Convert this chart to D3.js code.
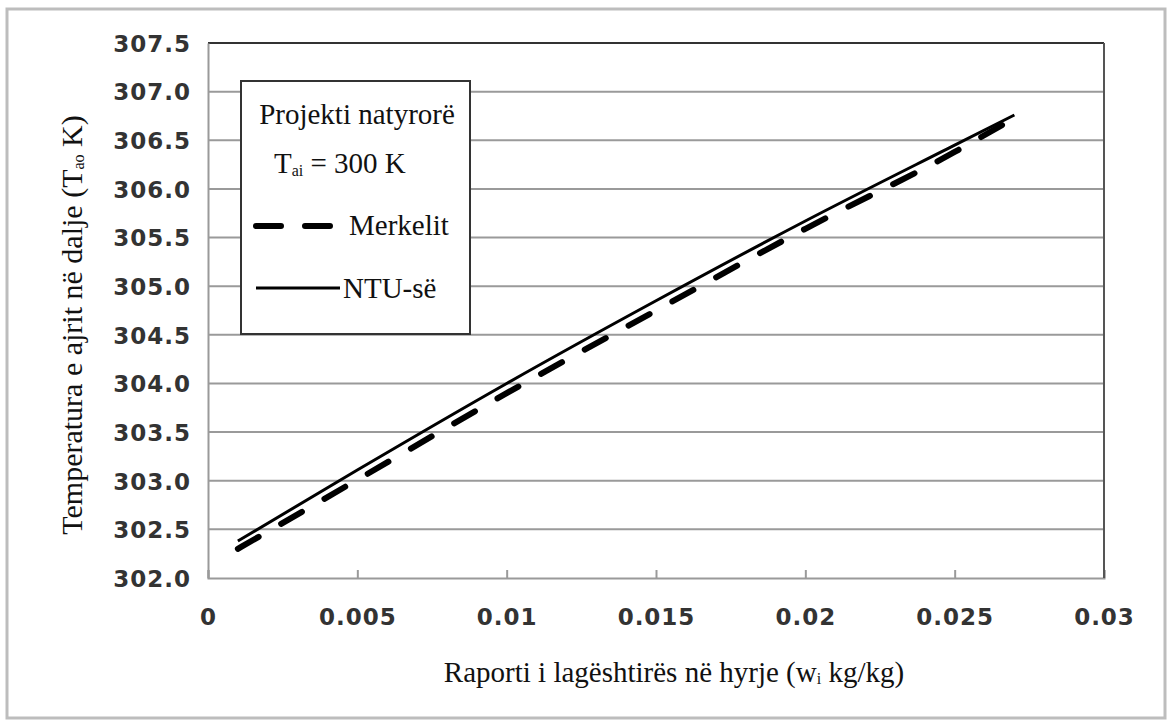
<!DOCTYPE html>
<html><head><meta charset="utf-8">
<script src="https://cdn.jsdelivr.net/npm/d3@7"></script>
<style>body{margin:0;background:#fff}</style>
</head><body>
<svg id="c" width="1172" height="726"></svg>
<script>
const xs = [0.001, 0.005, 0.01, 0.015, 0.02, 0.025, 0.027];
const ntu = [302.38, 303.11, 304.0, 304.85, 305.67, 306.45, 306.76];
const merkel = [302.30, 303.01, 303.90, 304.75, 305.59, 306.38, 306.73];
const xTicks = [0, 0.005, 0.01, 0.015, 0.02, 0.025, 0.03];
const xTickLabels = ["0", "0.005", "0.01", "0.015", "0.02", "0.025", "0.03"];
const yTicks = [302.0, 302.5, 303.0, 303.5, 304.0, 304.5, 305.0, 305.5, 306.0, 306.5, 307.0, 307.5];

const svg = d3.select("#c");
const L = 208, R = 1104, T = 43, B = 578;
const x = d3.scaleLinear().domain([0, 0.03]).range([L, R]);
const y = d3.scaleLinear().domain([302, 307.5]).range([B, T]);
const serif = "'Liberation Serif','Times New Roman',serif";
const sans = "'DejaVu Sans',Verdana,sans-serif";
const FS = 29;

// outer frame
svg.append("rect").attr("x", 7).attr("y", 9).attr("width", 1158).attr("height", 709)
  .attr("fill", "none").attr("stroke", "#bdbdbd").attr("stroke-width", 3);

// gridlines
svg.append("g").selectAll("line").data(yTicks.filter(d => d > 302)).join("line")
  .attr("x1", L).attr("x2", R).attr("y1", d => y(d)).attr("y2", d => y(d))
  .attr("stroke", d => d === 307.5 ? "#333" : "#9a9a9a").attr("stroke-width", 2);

// axes
const yAxis = d3.axisLeft(y).tickValues(yTicks).tickSize(0).tickPadding(17).tickFormat(d3.format(".1f"));
const gy = svg.append("g").attr("transform", `translate(${L},0)`).call(yAxis);
gy.select(".domain").attr("stroke", "#9a9a9a").attr("stroke-width", 2);
gy.selectAll("text").attr("font-family", sans).attr("font-weight", "bold").attr("font-size", 23)
  .attr("letter-spacing", 1).attr("fill", "#333").attr("dy", "0.36em");

const xAxis = d3.axisBottom(x).tickValues(xTicks).tickSize(-8).tickPadding(31)
  .tickFormat((d, i) => xTickLabels[i]);
const gx = svg.append("g").attr("transform", `translate(0,${B})`).call(xAxis);
gx.select(".domain").attr("stroke", "#9a9a9a").attr("stroke-width", 2);
gx.selectAll(".tick line").attr("stroke", "#9a9a9a").attr("stroke-width", 2);
gx.selectAll("text").attr("font-family", sans).attr("font-weight", "bold").attr("font-size", 23)
  .attr("letter-spacing", 1).attr("fill", "#333");

// right border
svg.append("line").attr("x1", R).attr("x2", R).attr("y1", T).attr("y2", B)
  .attr("stroke", "#555").attr("stroke-width", 2);

// lines
const line = d3.line().x(d => x(d[0])).y(d => y(d[1])).curve(d3.curveMonotoneX);
svg.append("path").datum(xs.map((d, i) => [d, merkel[i]])).attr("d", line)
  .attr("fill", "none").attr("stroke", "#000").attr("stroke-width", 6)
  .attr("stroke-dasharray", "24,26").attr("stroke-linecap", "round");
svg.append("path").datum(xs.map((d, i) => [d, ntu[i]])).attr("d", line)
  .attr("fill", "none").attr("stroke", "#000").attr("stroke-width", 3);

// legend
const lg = svg.append("g");
lg.append("rect").attr("x", 241).attr("y", 81).attr("width", 229).attr("height", 253)
  .attr("fill", "#fff").attr("stroke", "#333").attr("stroke-width", 2);
lg.append("text").attr("x", 357).attr("y", 124).attr("text-anchor", "middle")
  .attr("font-family", serif).attr("font-size", FS).attr("fill", "#111").text("Projekti natyrorë");
const t2 = lg.append("text").attr("x", 274).attr("y", 173)
  .attr("font-family", serif).attr("font-size", FS).attr("fill", "#111");
t2.append("tspan").text("T");
t2.append("tspan").attr("font-size", 16).attr("dy", 3).text("ai");
t2.append("tspan").attr("dy", -3).text(" = 300 K");
lg.append("line").attr("x1", 256).attr("x2", 333).attr("y1", 226).attr("y2", 226)
  .attr("stroke", "#000").attr("stroke-width", 6).attr("stroke-dasharray", "25,24").attr("stroke-linecap", "round");
lg.append("text").attr("x", 349).attr("y", 235).attr("font-family", serif).attr("font-size", FS)
  .attr("fill", "#111").text("Merkelit");
lg.append("line").attr("x1", 256).attr("x2", 340).attr("y1", 288).attr("y2", 288)
  .attr("stroke", "#000").attr("stroke-width", 3);
lg.append("text").attr("x", 343).attr("y", 298).attr("font-family", serif).attr("font-size", FS)
  .attr("fill", "#111").text("NTU-së");

// axis titles
const xt = svg.append("text").attr("x", 674).attr("y", 682).attr("text-anchor", "middle")
  .attr("font-family", serif).attr("font-size", FS).attr("fill", "#111");
xt.append("tspan").text("Raporti i lagështirës në hyrje (w");
xt.append("tspan").attr("font-size", 16).attr("dy", 2).text("i");
xt.append("tspan").attr("dy", -2).text(" kg/kg)");

const yt = svg.append("text").attr("transform", "translate(82,325) rotate(-90)").attr("text-anchor", "middle")
  .attr("font-family", serif).attr("font-size", 30).attr("fill", "#111");
yt.append("tspan").text("Temperatura e ajrit në dalje (T");
yt.append("tspan").attr("font-size", 16).attr("dy", 2).text("ao");
yt.append("tspan").attr("dy", -2).text(" K)");
</script>
</body></html>
